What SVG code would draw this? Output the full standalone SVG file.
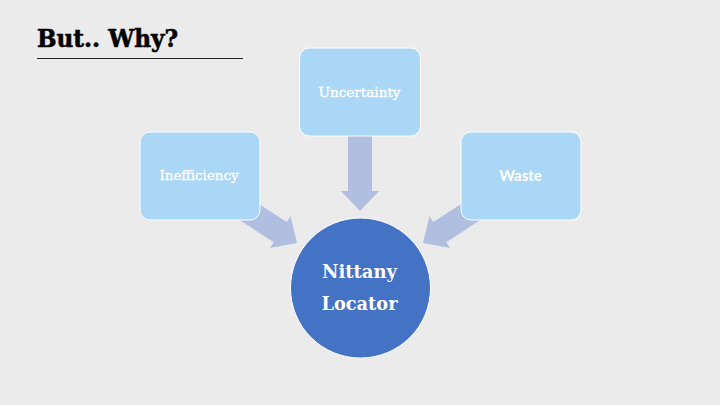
<svg xmlns="http://www.w3.org/2000/svg" width="720" height="405" viewBox="0 0 720 405">
<style>
.box{fill:#ABD7F6;stroke:#FFFFFF;stroke-width:1}
.arrow{fill:#B0BFE0}
.lbl{font-family:"DejaVu Serif","Liberation Serif",serif;font-size:13px;fill:#FFFFFF;stroke:#FFFFFF;stroke-width:0.3;text-anchor:middle}
.lbl2{font-family:Lato,"Liberation Sans",sans-serif;font-weight:bold;font-size:15px;fill:#FFFFFF;text-anchor:middle}
.ctr{font-family:"DejaVu Serif","Liberation Serif",serif;font-weight:bold;font-size:18px;fill:#FFFFFF;text-anchor:middle}
</style>
<defs>
<polygon id="arr" points="-85,-12 -20,-12 -20,-19 0,0 -20,19 -20,12 -85,12"/>
</defs>
<rect width="720" height="405" fill="#EBEBEB"/>
<text x="37" y="47" font-family="'DejaVu Serif','Liberation Serif',serif" font-weight="900" font-size="24" fill="#000000" stroke="#000000" stroke-width="0.6" textLength="141" lengthAdjust="spacingAndGlyphs">But.. Why?</text>
<line x1="37" y1="58.5" x2="243" y2="58.5" stroke="#222222" stroke-width="1"/>
<g id="connectors" class="arrow">
<use href="#arr" transform="translate(297,243) rotate(33)"/>
<use href="#arr" transform="translate(360,211) rotate(90)"/>
<use href="#arr" transform="translate(423,243) rotate(147)"/>
</g>
<g id="node-inefficiency">
<rect class="box" x="140" y="132" width="120" height="88" rx="10"/>
<text class="lbl" x="199" y="180" textLength="79" lengthAdjust="spacingAndGlyphs">Inefficiency</text>
</g>
<g id="node-uncertainty">
<rect class="box" x="299.5" y="48" width="121" height="88" rx="10"/>
<text class="lbl" x="359.5" y="97" textLength="82" lengthAdjust="spacingAndGlyphs">Uncertainty</text>
</g>
<g id="node-waste">
<rect class="box" x="461" y="132" width="120" height="88" rx="10"/>
<text class="lbl2" x="520.5" y="181">Waste</text>
</g>
<g id="node-nittany">
<circle cx="360.5" cy="288" r="70" fill="#4472C4" stroke="#FFFFFF" stroke-width="1"/>
<text class="ctr" x="359.5" y="278" textLength="75" lengthAdjust="spacingAndGlyphs">Nittany</text>
<text class="ctr" x="359.5" y="310" textLength="76" lengthAdjust="spacingAndGlyphs">Locator</text>
</g>
</svg>
